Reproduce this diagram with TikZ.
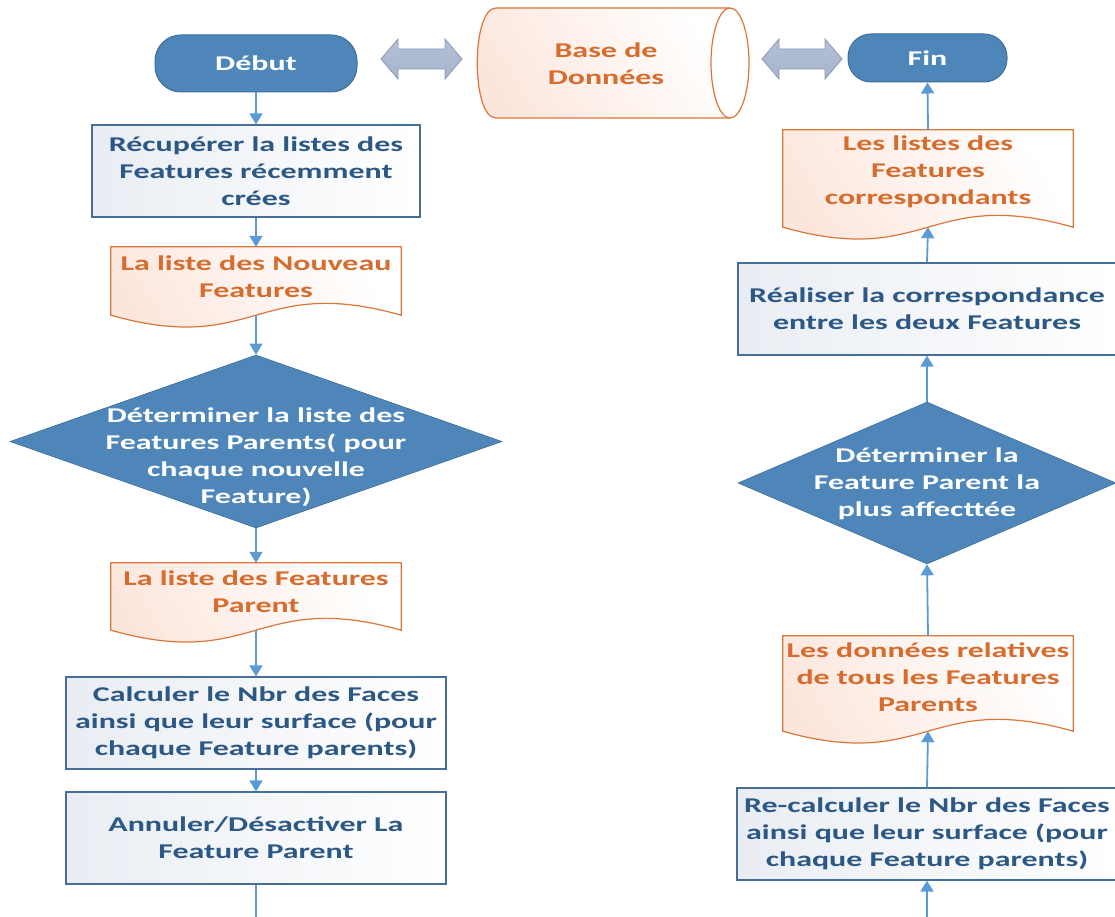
\documentclass[tikz,border=0pt]{standalone}
\usepackage{fontspec}
\usetikzlibrary{arrows.meta,shapes.geometric,calc}
\newfontfamily\cf[FakeStretch=1.52]{Carlito}
\definecolor{termfill}{RGB}{78,134,185}
\definecolor{termline}{RGB}{62,108,152}
\definecolor{proctext}{RGB}{44,88,134}
\definecolor{procline}{RGB}{70,110,150}
\definecolor{procfill}{RGB}{233,237,243}
\definecolor{doctext}{RGB}{214,108,46}
\definecolor{docline}{RGB}{218,118,58}
\definecolor{docfill}{RGB}{252,230,220}
\definecolor{conn}{RGB}{91,155,213}
\definecolor{barrowfill}{RGB}{166,181,205}
\definecolor{barrowline}{RGB}{138,154,180}
\tikzset{
  txt/.style={font=\cf\bfseries\fontsize{21}{27}\selectfont, align=center},
  term/.style={txt, rectangle, rounded corners=26pt, fill=termfill, draw=termline, line width=1pt, text=white, inner sep=0pt},
  proc/.style={txt, rectangle, draw=procline, line width=1.2pt, left color=procfill, right color=white, text=proctext, inner sep=0pt},
  docframe/.style={rectangle, inner sep=0pt},
  docshape/.style={draw=docline, line width=1.2pt, left color=docfill, right color=white, shading angle=120},
  doctxt/.style={txt, text=doctext, inner sep=0pt},
  dec/.style={diamond, fill=termfill, draw=termline, line width=0.6pt, inner sep=0pt},
  dectxt/.style={txt, text=white, inner sep=0pt},
  flow/.style={draw=conn, line width=1.8pt, -{Triangle[width=13pt,length=11pt]}},
  flowplain/.style={draw=conn, line width=1.8pt},
  barrow/.style={top color=barrowfill!85!white, bottom color=barrowfill, draw=barrowline, line width=0.8pt},
}
\newcommand{\docpath}[1]{%
  \path[docshape] (#1.south west) -- (#1.north west) -- (#1.north east) -- (#1.south east)
    .. controls ($(#1.south)+(0,-41)$) and ($(#1.south)+(0,41)$) .. (#1.south west) -- cycle;}
\begin{document}
\begin{tikzpicture}[x=1pt,y=-1pt]
\useasboundingbox[fill=white] (0,0) rectangle (1115,917);

% database
\path[draw=docline, line width=1.2pt, left color=docfill, right color=white, shading angle=120]
  (730,8) -- (496,8) .. controls (471,8) and (471,118) .. (496,118) -- (730,118) -- cycle;
\path[fill=white, draw=docline, line width=1.2pt] (730,63) ellipse [x radius=19pt, y radius=55pt];
\node[doctxt] (db) at (606,63.5) {Base de\\Données};

% block double arrows
\path[barrow] (381,59) -- (398,39) -- (398,49) -- (445,49) -- (445,39) -- (462,59)
  -- (445,79) -- (445,69) -- (398,69) -- (398,79) -- cycle;
\path[barrow] (762,59) -- (779,39) -- (779,49) -- (825,49) -- (825,39) -- (842,59)
  -- (825,79) -- (825,69) -- (779,69) -- (779,79) -- cycle;

% left column
\node[term, minimum width=202pt, minimum height=57pt] (debut) at (256,63.5) {Début};
\node[proc, minimum width=328pt, minimum height=92pt] (b1) at (256,171) {Récupérer la listes des\\Features récemment\\crées};
\node[docframe, minimum width=290pt, minimum height=68pt] (d1) at (256,281) {};
\docpath{d1}
\node[doctxt] (d1t) at (256,276.5) {La liste des Nouveau\\Features};
\node[dec, minimum width=492pt, minimum height=173pt] (dia1) at (256,441.5) {};
\node[dectxt] (dia1t) at (256,457) {Déterminer la liste des\\Features Parents( pour\\chaque nouvelle\\Feature)};
\node[docframe, minimum width=290pt, minimum height=67pt] (d2) at (256,596.5) {};
\docpath{d2}
\node[doctxt] (d2t) at (256,591.5) {La liste des Features\\Parent};
\node[proc, minimum width=380pt, minimum height=92pt] (b2) at (256,723) {Calculer le Nbr des Faces\\ainsi que leur surface (pour\\chaque Feature parents)};
\node[proc, minimum width=380pt, minimum height=92pt] (b3) at (256,838) {Annuler/Désactiver La\\Feature Parent};
\coordinate (endL) at (256,917);

% right column
\node[term, minimum width=159pt, minimum height=48pt, rounded corners=23pt] (fin) at (927.5,58) {Fin};
\node[docframe, minimum width=290pt, minimum height=97pt] (d3) at (928,178.5) {};
\docpath{d3}
\node[doctxt] (d3t) at (928,172) {Les listes des\\Features\\correspondants};
\node[proc, minimum width=378pt, minimum height=92pt] (b4) at (927,309) {Réaliser la correspondance\\entre les deux Features};
\node[dec, minimum width=378pt, minimum height=162pt] (dia2) at (927,483) {};
\node[dectxt] (dia2t) at (927,484) {Déterminer la\\Feature Parent la\\plus affecttée};
\node[docframe, minimum width=290pt, minimum height=95pt] (d4) at (928,683.5) {};
\docpath{d4}
\node[doctxt] (d4t) at (928,677) {Les données relatives\\de tous les Features\\Parents};
\node[proc, minimum width=380pt, minimum height=92pt] (b5) at (927,834) {Re-calculer le Nbr des Faces\\ainsi que leur surface (pour\\chaque Feature parents)};
\coordinate (endR) at (927,917);

% connectors
\draw[flow] (debut.south) -- (b1.north);
\draw[flow] (b1.south) -- (d1.north);
\draw[flow] (d1.south) -- (dia1.north);
\draw[flow] (dia1.south) -- (d2.north);
\draw[flow] (d2.south) -- (b2.north);
\draw[flow] (b2.south) -- (b3.north);
\draw[flowplain] (b3.south) -- (endL);
\draw[flow] (endR) -- (b5.south);
\draw[flow] (b5.north) -- (d4.south);
\draw[flow] (d4.north) -- (dia2.south);
\draw[flow] (dia2.north) -- (b4.south);
\draw[flow] (b4.north) -- (d3.south);
\draw[flow] (d3.north) -- (fin.south);
\end{tikzpicture}
\end{document}
